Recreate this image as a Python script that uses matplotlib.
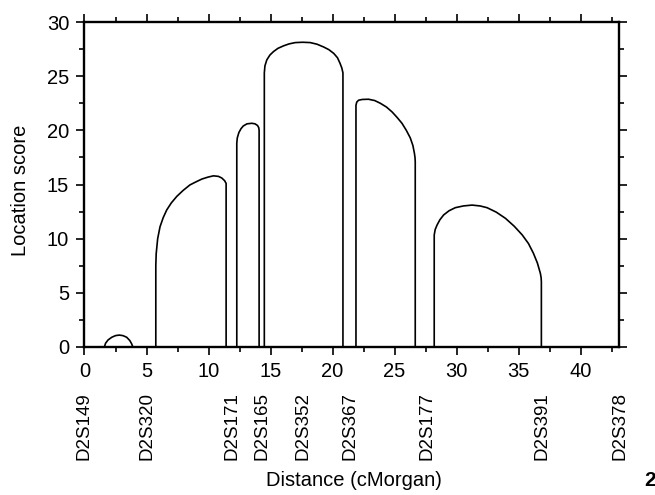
import matplotlib
matplotlib.use("Agg")
import matplotlib.pyplot as plt
from matplotlib.ticker import MultipleLocator
from matplotlib.transforms import blended_transform_factory

plt.rcParams['font.family'] = ['Liberation Sans', 'DejaVu Sans']

# Location-score curves, each a separate segment
seg1_x = [1.6, 1.7, 1.9, 2.2, 2.5, 2.8, 3.1, 3.4, 3.65, 3.8, 3.9]
seg1_y = [0.0, 0.35, 0.65, 0.9, 1.05, 1.1, 1.05, 0.9, 0.6, 0.3, 0.0]

seg2_x = [5.75, 5.75, 5.78, 5.9, 6.09, 6.35, 6.63, 7.0, 7.44, 7.95, 8.5, 9.0,
          9.46, 9.95, 10.4, 10.8, 11.07, 11.3, 11.42, 11.42]
seg2_y = [0.0, 7.5, 8.6, 10.0, 11.1, 11.95, 12.65, 13.3, 13.9, 14.45, 14.96, 15.25,
          15.5, 15.68, 15.8, 15.75, 15.6, 15.35, 15.1, 0.0]

seg3_x = [12.28, 12.28, 12.32, 12.45, 12.62, 12.8, 13.1, 13.5, 13.75, 13.95, 14.05, 14.08, 14.08]
seg3_y = [0.0, 18.8, 19.3, 19.8, 20.15, 20.4, 20.6, 20.65, 20.6, 20.45, 20.25, 20.0, 0.0]

seg4_x = [14.5, 14.5, 14.55, 14.7, 14.95, 15.24, 15.6, 16.05, 16.5, 17.0, 17.6, 18.2,
          18.75, 19.27, 19.7, 20.1, 20.4, 20.6, 20.75, 20.84, 20.84]
seg4_y = [0.0, 25.3, 25.95, 26.5, 26.95, 27.27, 27.57, 27.8, 27.98, 28.1, 28.13, 28.1,
          27.95, 27.7, 27.45, 27.1, 26.7, 26.2, 25.75, 25.3, 0.0]

seg5_x = [21.89, 21.89, 21.95, 22.1, 22.4, 22.9, 23.4, 23.85, 24.35, 24.8, 25.2, 25.6,
          25.95, 26.27, 26.48, 26.6, 26.65, 26.67, 26.67]
seg5_y = [0.0, 22.3, 22.6, 22.78, 22.85, 22.87, 22.75, 22.5, 22.15, 21.7, 21.2, 20.65,
          20.0, 19.3, 18.6, 17.9, 17.5, 17.1, 0.0]

seg6_x = [28.2, 28.2, 28.28, 28.43, 28.66, 28.96, 29.4, 29.9, 30.55, 31.25, 31.9, 32.46,
          33.2, 33.94, 34.65, 35.3, 35.8, 36.2, 36.52, 36.76, 36.82, 36.84, 36.84]
seg6_y = [0.0, 10.34, 10.85, 11.26, 11.75, 12.19, 12.58, 12.86, 13.02, 13.1, 13.02, 12.86,
          12.45, 11.88, 11.15, 10.34, 9.55, 8.65, 7.75, 6.8, 6.4, 6.03, 0.0]

segments = [(seg1_x, seg1_y), (seg2_x, seg2_y), (seg3_x, seg3_y),
            (seg4_x, seg4_y), (seg5_x, seg5_y), (seg6_x, seg6_y)]

# Marker names and their positions (cM)
marker_names = ["D2S149", "D2S320", "D2S171", "D2S165", "D2S352",
                "D2S367", "D2S177", "D2S391", "D2S378"]
marker_pos = [0.0, 5.0, 11.9, 14.3, 17.6, 21.4, 27.6, 36.9, 43.2]

fig = plt.figure(figsize=(6.55, 4.95), dpi=100)
ax = fig.add_axes([84.5/655, 1-347/495, (619-84.5)/655, (347-22)/495])

for xs, ys in segments:
    ax.plot(xs, ys, color='black', lw=1.2, solid_joinstyle='round')

ax.set_xlim(0, 43.1)
ax.set_ylim(0, 30)

ax.xaxis.set_major_locator(MultipleLocator(5))
ax.xaxis.set_minor_locator(MultipleLocator(2.5))
ax.yaxis.set_major_locator(MultipleLocator(5))
ax.yaxis.set_minor_locator(MultipleLocator(2.5))

ax.tick_params(which='both', direction='out', top=True, right=True,
               labeltop=False, labelright=False, width=1.2, color='black')
ax.tick_params(which='major', length=6, labelsize=14.5, pad=5)
ax.tick_params(which='minor', length=3.5)
for s in ax.spines.values():
    s.set_linewidth(1.7)

trans = blended_transform_factory(ax.transData, fig.transFigure)
for name, pos in zip(marker_names, marker_pos):
    ax.text(pos, 1-392/495, name, rotation=90, ha='center', va='top',
            fontsize=13.5, transform=trans, clip_on=False)

fig.text(354/655, 1-480/495, "Distance (cMorgan)", ha='center', va='center', fontsize=14.5)
fig.text(20.5/655, 1-190/495, "Location score", ha='center', va='center',
         rotation=90, fontsize=14.5)
fig.text(650/655, 1-480/495, "2", ha='center', va='center', fontsize=15, fontweight='bold')

fig.savefig("out.png", dpi=100)
